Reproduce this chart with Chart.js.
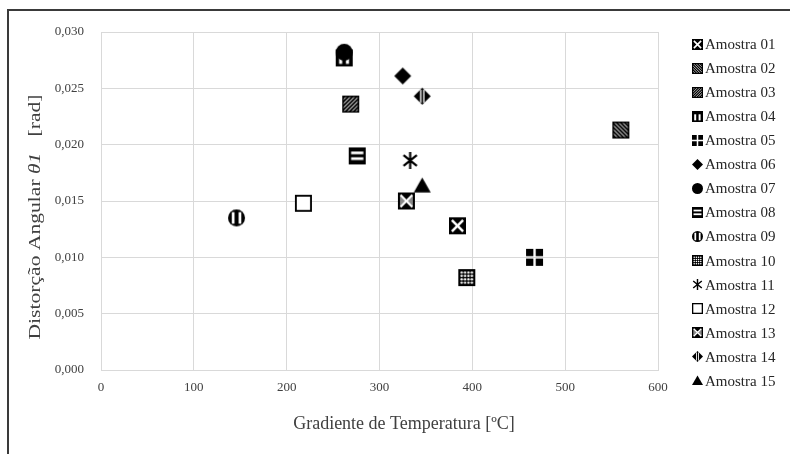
<!DOCTYPE html>
<html>
<head>
<meta charset="utf-8">
<script src="https://cdn.jsdelivr.net/npm/chart.js@4/dist/chart.umd.min.js"></script>
<style>
  html, body { margin: 0; padding: 0; background: #fff; }
  #wrap { position: relative; width: 790px; height: 454px; overflow: hidden; }
  #wrap canvas { position: absolute; left: 0; top: 0; }
  #frame { position: absolute; left: 7px; top: 9px; width: 820px; height: 480px;
           border: 2px solid #3a3a3a; box-sizing: border-box; pointer-events: none; }
</style>
</head>
<body>
<div id="wrap">
  <canvas id="chart" width="790" height="454"></canvas>
  <div id="frame"></div>
</div>
<script>
// Samples, temperature gradient (°C) and angular distortion θ1 (rad)
const sampleNames = [
  'Amostra 01', 'Amostra 02', 'Amostra 03', 'Amostra 04', 'Amostra 05',
  'Amostra 06', 'Amostra 07', 'Amostra 08', 'Amostra 09', 'Amostra 10',
  'Amostra 11', 'Amostra 12', 'Amostra 13', 'Amostra 14', 'Amostra 15'
];
const gradientC = [384, 560, 269, 262, 467, 325, 262, 276, 146, 394, 333, 218, 329, 346, 346];
const distortionRad = [0.0128, 0.0213, 0.0236, 0.0277, 0.0100, 0.0261, 0.0282, 0.0190,
                       0.0135, 0.0082, 0.0186, 0.0148, 0.0150, 0.0243, 0.0164];
const markerKinds = ['xsq', 'bslash', 'fslash', 'vbars', 'quad', 'diamond', 'circle', 'hbars',
                     'vcircle', 'dots', 'star', 'open', 'xsq2', 'diamond2', 'tri'];
const xTickValues = [0, 100, 200, 300, 400, 500, 600];
const yTickValues = [0, 0.005, 0.010, 0.015, 0.020, 0.025, 0.030];

const SERIF = '"Liberation Serif", "Times New Roman", serif';
const INK = '#404040';

// Builds a small canvas with one marker symbol of size s
function makeMarker(kind, s) {
  const pad = 1;
  const c = document.createElement('canvas');
  c.width = c.height = Math.ceil(s + 2 * pad);
  const g = c.getContext('2d');
  g.translate(pad, pad);
  g.fillStyle = '#000';
  g.strokeStyle = '#000';
  const box = () => { g.beginPath(); g.rect(0, 0, s, s); };
  const stripes = (dir) => {
    g.save();
    g.fillStyle = '#fff'; g.fillRect(0, 0, s, s);
    box(); g.clip();
    g.lineWidth = s * 0.12;
    const step = s / 4.2;
    g.beginPath();
    for (let t = -s; t < 2 * s; t += step) {
      if (dir > 0) { g.moveTo(t, 0); g.lineTo(t + s, s); }
      else { g.moveTo(t, 0); g.lineTo(t - s, s); }
    }
    g.stroke();
    g.restore();
    g.lineWidth = Math.max(1.2, s * 0.09);
    g.strokeRect(g.lineWidth / 2, g.lineWidth / 2, s - g.lineWidth, s - g.lineWidth);
  };
  const diamond = () => {
    g.beginPath();
    g.moveTo(s / 2, 0); g.lineTo(s, s / 2); g.lineTo(s / 2, s); g.lineTo(0, s / 2);
    g.closePath();
  };
  switch (kind) {
    case 'xsq':
      g.fillRect(0, 0, s, s);
      g.strokeStyle = '#fff'; g.lineWidth = s * 0.15;
      g.beginPath();
      g.moveTo(s * 0.17, s * 0.17); g.lineTo(s * 0.83, s * 0.83);
      g.moveTo(s * 0.83, s * 0.17); g.lineTo(s * 0.17, s * 0.83);
      g.stroke();
      break;
    case 'xsq2':
      g.fillRect(0, 0, s, s);
      g.fillStyle = '#8a8a8a';
      g.beginPath(); g.moveTo(s * 0.12, s * 0.2); g.lineTo(s * 0.45, s * 0.5); g.lineTo(s * 0.12, s * 0.8); g.fill();
      g.beginPath(); g.moveTo(s * 0.88, s * 0.2); g.lineTo(s * 0.55, s * 0.5); g.lineTo(s * 0.88, s * 0.8); g.fill();
      g.strokeStyle = '#fff'; g.lineWidth = s * 0.13;
      g.beginPath();
      g.moveTo(s * 0.15, s * 0.15); g.lineTo(s * 0.85, s * 0.85);
      g.moveTo(s * 0.85, s * 0.15); g.lineTo(s * 0.15, s * 0.85);
      g.stroke();
      break;
    case 'bslash': stripes(1); break;
    case 'fslash': stripes(-1); break;
    case 'vbars':
      g.fillRect(0, 0, s, s);
      g.fillStyle = '#fff';
      g.fillRect(s * 0.2, s * 0.3, s * 0.18, s * 0.55);
      g.fillRect(s * 0.6, s * 0.3, s * 0.18, s * 0.55);
      break;
    case 'hbars':
      g.fillRect(0, 0, s, s);
      g.fillStyle = '#fff';
      g.fillRect(s * 0.14, s * 0.24, s * 0.72, s * 0.16);
      g.fillRect(s * 0.14, s * 0.58, s * 0.72, s * 0.16);
      break;
    case 'quad': {
      const h = (s - s * 0.14) / 2;
      g.fillRect(0, 0, h, h); g.fillRect(s - h, 0, h, h);
      g.fillRect(0, s - h, h, h); g.fillRect(s - h, s - h, h, h);
      break;
    }
    case 'diamond': diamond(); g.fill(); break;
    case 'diamond2':
      diamond(); g.fill();
      g.save(); diamond(); g.clip();
      g.fillStyle = '#fff';
      g.fillRect(s * 0.37, s * 0.12, s * 0.08, s * 0.76);
      g.fillRect(s * 0.55, s * 0.12, s * 0.08, s * 0.76);
      g.restore();
      break;
    case 'circle':
      g.beginPath(); g.arc(s / 2, s / 2, s / 2, 0, Math.PI * 2); g.fill();
      break;
    case 'vcircle':
      g.beginPath(); g.arc(s / 2, s / 2, s / 2, 0, Math.PI * 2); g.fill();
      g.fillStyle = '#fff';
      g.fillRect(s * 0.22, s * 0.16, s * 0.16, s * 0.68);
      g.fillRect(s * 0.62, s * 0.16, s * 0.16, s * 0.68);
      break;
    case 'dots':
      g.fillRect(0, 0, s, s);
      g.fillStyle = '#fff';
      for (let i = 0; i < 4; i++) {
        for (let j = 0; j < 4; j++) {
          g.beginPath();
          g.arc(s * (0.2 + i * 0.2), s * (0.2 + j * 0.2), s * 0.07, 0, Math.PI * 2);
          g.fill();
        }
      }
      break;
    case 'star': {
      const w = s * 0.78, x0 = (s - w) / 2;
      g.lineWidth = Math.max(1.4, s * 0.13);
      g.beginPath();
      g.moveTo(s / 2, 0); g.lineTo(s / 2, s);
      g.moveTo(x0, s * 0.18); g.lineTo(x0 + w, s * 0.82);
      g.moveTo(x0 + w, s * 0.18); g.lineTo(x0, s * 0.82);
      g.stroke();
      break;
    }
    case 'open':
      g.fillStyle = '#fff'; g.fillRect(0, 0, s, s);
      g.lineWidth = Math.max(1.3, s * 0.11);
      g.strokeRect(g.lineWidth / 2, g.lineWidth / 2, s - g.lineWidth, s - g.lineWidth);
      break;
    case 'tri':
      g.beginPath(); g.moveTo(s / 2, s * 0.05); g.lineTo(s, s * 0.92); g.lineTo(0, s * 0.92); g.closePath(); g.fill();
      break;
  }
  return c;
}

const plotMarkers = markerKinds.map(k => makeMarker(k, 17));
const legendMarkers = markerKinds.map(k => makeMarker(k, 11));

const datasets = sampleNames.map((name, i) => ({
  label: name,
  data: [{ x: gradientC[i], y: distortionRad[i] }],
  pointStyle: plotMarkers[i],
  pointRadius: 8,
  pointHoverRadius: 8,
  order: name === 'Amostra 07' ? -1 : 0
}));

// Legend column on the right
const sampleLegend = {
  id: 'sampleLegend',
  afterDraw(chart) {
    const ctx = chart.ctx;
    ctx.save();
    ctx.font = '15px ' + SERIF;
    ctx.fillStyle = '#262626';
    ctx.textBaseline = 'middle';
    ctx.textAlign = 'left';
    chart.data.datasets.forEach((ds, i) => {
      const y = 44 + i * 24.07;
      const m = legendMarkers[i];
      ctx.drawImage(m, Math.round(697 - m.width / 2), Math.round(y - m.height / 2));
      ctx.fillText(ds.label, 705, y + 1);
    });
    ctx.restore();
  }
};

// Axis titles, with the italic θ1 in the vertical one
const axisTitles = {
  id: 'axisTitles',
  afterDraw(chart) {
    const ctx = chart.ctx;
    ctx.save();
    ctx.fillStyle = INK;
    ctx.textBaseline = 'middle';
    ctx.font = '18px ' + SERIF;
    ctx.textAlign = 'center';
    ctx.fillText('Gradiente de Temperatura [ºC]', 404, 424);

    const parts = [
      { t: 'Distorção Angular ', f: '17px ' + SERIF },
      { t: 'θ1', f: 'italic 17px ' + SERIF },
      { t: '   [rad]', f: '17px ' + SERIF }
    ];
    let total = 0;
    parts.forEach(p => { ctx.font = p.f; p.w = ctx.measureText(p.t).width; total += p.w; });
    const span = 245;
    ctx.translate(36, 217);
    ctx.rotate(-Math.PI / 2);
    ctx.scale(span / total, 1);
    ctx.textAlign = 'left';
    let x = -total / 2;
    parts.forEach(p => { ctx.font = p.f; ctx.fillText(p.t, x, 0); x += p.w; });
    ctx.restore();
  }
};

new Chart(document.getElementById('chart'), {
  type: 'scatter',
  data: { datasets },
  options: {
    responsive: false,
    animation: false,
    devicePixelRatio: 1,
    layout: { padding: { left: 0, top: 32, right: 132, bottom: 0 } },
    plugins: {
      legend: { display: false },
      tooltip: { enabled: false }
    },
    scales: {
      x: {
        type: 'linear',
        min: 0, max: 600,
        afterBuildTicks: s => { s.ticks = xTickValues.map(v => ({ value: v })); },
        afterFit: s => { s.height = 84; },
        grid: { color: '#d9d9d9', drawTicks: false },
        border: { color: '#d9d9d9' },
        ticks: {
          padding: 10, color: INK, maxRotation: 0,
          font: { family: SERIF, size: 13 },
          callback: v => String(v)
        }
      },
      y: {
        type: 'linear',
        min: 0, max: 0.03,
        afterBuildTicks: s => { s.ticks = yTickValues.map(v => ({ value: v })); },
        afterFit: s => { s.width = 101; },
        grid: { color: '#d9d9d9', drawTicks: false },
        border: { color: '#d9d9d9' },
        ticks: {
          padding: 17, color: INK,
          font: { family: SERIF, size: 13 },
          callback: v => v.toFixed(3).replace('.', ',')
        }
      }
    }
  },
  plugins: [sampleLegend, axisTitles]
});
</script>
</body>
</html>
